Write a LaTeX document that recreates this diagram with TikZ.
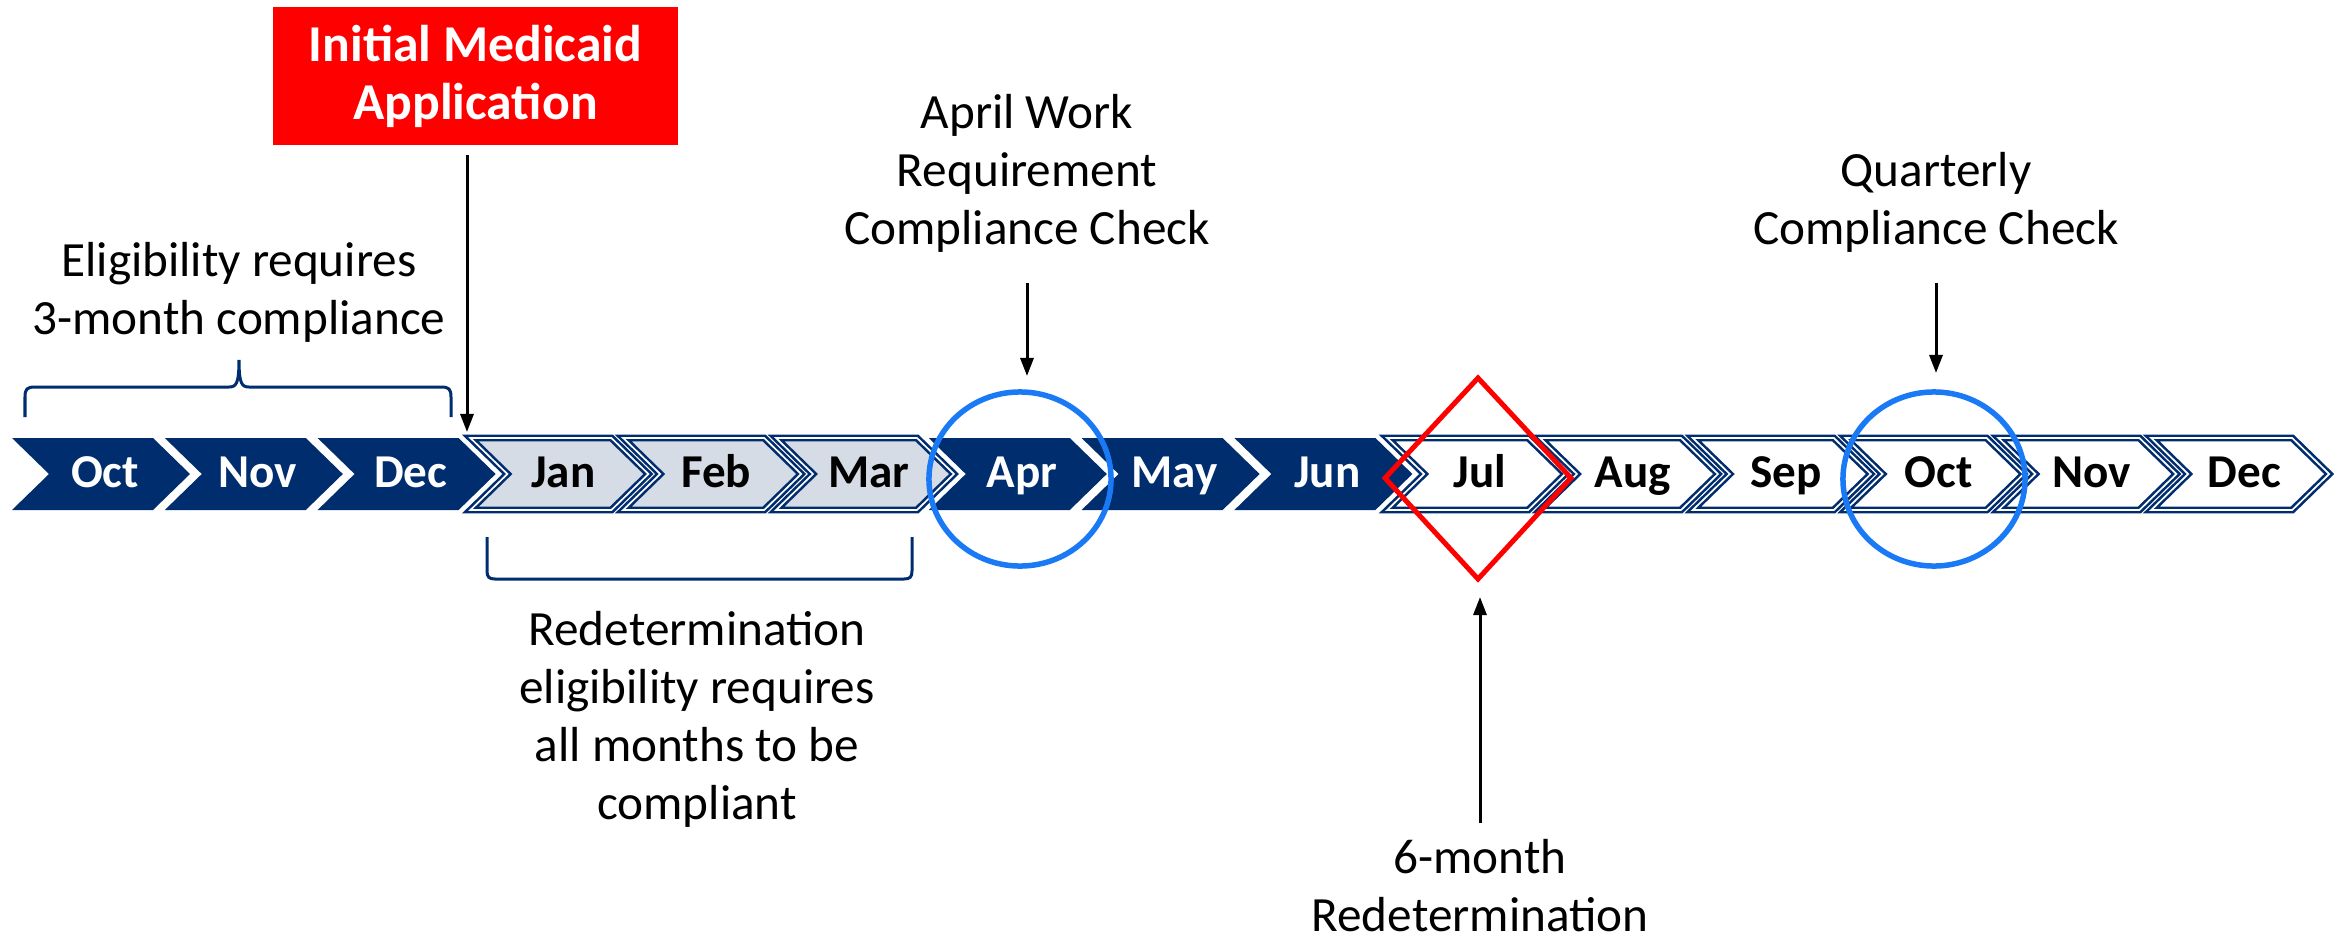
\documentclass[tikz,border=0pt]{standalone}
\usepackage{fontspec}
\setmainfont{Carlito}
\usetikzlibrary{arrows.meta}
\definecolor{navy}{RGB}{0,45,110}
\definecolor{paleblue}{RGB}{214,220,229}
\definecolor{ringblue}{RGB}{26,122,246}
\definecolor{alertred}{RGB}{255,0,0}

\begin{document}
\begin{tikzpicture}[x=0.01cm,y=-0.01cm,
  dark/.style={fill=navy},
  pale/.style={fill=paleblue,draw=navy,line width=0.026cm,double=white,double distance=0.017cm},
  blank/.style={fill=white,draw=navy,line width=0.026cm,double=white,double distance=0.017cm},
  mlabel/.style={anchor=base,inner sep=0pt,font=\fontsize{13.4}{15}\selectfont\bfseries},
  note/.style={align=center,inner sep=0pt,font=\fontsize{14}{16.5}\selectfont},
  arr/.style={line width=0.03cm,-{Triangle[length=0.18cm,width=0.13cm]}},
  brace/.style={navy,line width=0.03cm}]
  \useasboundingbox (0,0) rectangle (2341,939);
  \foreach \i/\mon/\kind/\tc in {0/Oct/dark/white,1/Nov/dark/white,2/Dec/dark/white,
      3/Jan/pale/black,4/Feb/pale/black,5/Mar/pale/black,
      6/Apr/dark/white,7/May/dark/white,8/Jun/dark/white,
      9/Jul/blank/black,10/Aug/blank/black,11/Sep/blank/black,
      12/Oct/blank/black,13/Nov/blank/black,14/Dec/blank/black}{
    \pgfmathsetmacro\xa{12+152.8*\i}
    \path[\kind] (\xa,438) -- ++(141,0) -- ++(37,36) -- ++(-37,36) -- ++(-141,0) -- ++(37,-36) -- cycle;
    \node[mlabel,text=\tc] (m\i) at (\xa+93,487) {\mon};
  }
  \draw[ringblue,line width=0.055cm] (1020,479) ellipse [x radius=0.91cm,y radius=0.87cm];
  \draw[ringblue,line width=0.055cm] (1934,479) ellipse [x radius=0.91cm,y radius=0.87cm];
  \draw[alertred,line width=0.05cm] (1478,378) -- (1571,478) -- (1478,579) -- (1385,478) -- cycle;
  \draw[brace] (25,417) -- (25,397) .. controls (25,389) and (27,387) .. (35,387) -- (229,387)
    .. controls (236,387) and (239,384) .. (239,360) .. controls (239,384) and (242,387) .. (249,387)
    -- (441,387) .. controls (449,387) and (451,389) .. (451,397) -- (451,417);
  \draw[brace] (487,537) -- (487,571) .. controls (487,577) and (489,579) .. (495,579) -- (904,579)
    .. controls (910,579) and (912,577) .. (912,571) -- (912,537);
  \node[fill=alertred,text=white,minimum width=4.05cm,minimum height=1.38cm,align=center,
    font=\fontsize{14.7}{16.5}\selectfont\bfseries] (app) at (475.5,76) {Initial Medicaid\\Application};
  \node[note] (elig) at (239,292) {Eligibility requires\\3-month compliance};
  \node[note] (redet) at (697,719) {Redetermination\\eligibility requires\\all months to be\\compliant};
  \node[note] (aprnote) at (1027,173) {April Work\\Requirement\\Compliance Check};
  \node[note] (qnote) at (1936,202) {Quarterly\\Compliance Check};
  \node[note] (sixnote) at (1480,886) {6-month\\Redetermination};
  \coordinate (append) at (467,432);
  \coordinate (aprend) at (1027,376);
  \coordinate (qend) at (1936,373);
  \coordinate (sixend) at (1480,597);
  \draw[arr,shorten <=0.09cm] (app.south -| append) -- (append);
  \draw[arr,shorten <=0.3cm] (aprnote.south) -- (aprend);
  \draw[arr,shorten <=0.3cm] (qnote.south) -- (qend);
  \draw[arr,shorten <=0.16cm] (sixnote.north) -- (sixend);
\end{tikzpicture}
\end{document}
